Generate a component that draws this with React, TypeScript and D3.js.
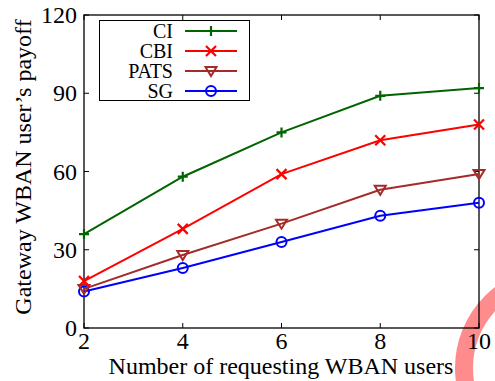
import React from 'react'
import * as d3 from 'd3'

const users = [2, 4, 6, 8, 10]
const ciValues = [36, 58, 75, 89, 92]
const cbiValues = [18, 38, 59, 72, 78]
const patsValues = [15, 28, 40, 53, 59]
const sgValues = [14, 23, 33, 43, 48]
const yTicks = [0, 30, 60, 90, 120]
const seriesNames = ['CI', 'CBI', 'PATS', 'SG']

function PayoffChart() {
  const svgRef = React.useRef<SVGSVGElement>(null)

  React.useEffect(() => {
    const svg = d3.select(svgRef.current)
    svg.selectAll('*').remove()

    const width = 495
    const height = 381
    const margin = { top: 15, right: 16, bottom: 53, left: 84 }

    const x = d3.scaleLinear().domain([2, 10]).range([margin.left, width - margin.right])
    const y = d3.scaleLinear().domain([0, 120]).range([height - margin.bottom, margin.top])

    const series = [
      { name: seriesNames[0], values: ciValues, color: '#006400', marker: 'plus' },
      { name: seriesNames[1], values: cbiValues, color: '#ff0000', marker: 'cross' },
      { name: seriesNames[2], values: patsValues, color: '#a52a2a', marker: 'tri' },
      { name: seriesNames[3], values: sgValues, color: '#0000ff', marker: 'circle' },
    ]

    // watermark ring in the corner
    svg
      .append('circle')
      .attr('cx', 557)
      .attr('cy', 368)
      .attr('r', 93)
      .attr('fill', 'none')
      .attr('stroke', '#ff8c8c')
      .attr('stroke-width', 18)

    const x0 = x(2)
    const x1 = x(10)
    const y0 = y(0)
    const y1 = y(120)

    // mirrored inward ticks
    const tickLen = 5
    users.forEach((u) => {
      svg.append('line').attr('x1', x(u)).attr('x2', x(u)).attr('y1', y0).attr('y2', y0 - tickLen).attr('stroke', 'black')
      svg.append('line').attr('x1', x(u)).attr('x2', x(u)).attr('y1', y1).attr('y2', y1 + tickLen).attr('stroke', 'black')
      svg
        .append('text')
        .attr('class', 'lbl')
        .attr('x', x(u))
        .attr('y', y0 + 21)
        .attr('text-anchor', 'middle')
        .attr('font-size', 24)
        .text(u)
    })
    yTicks.forEach((t) => {
      svg.append('line').attr('x1', x0).attr('x2', x0 + tickLen).attr('y1', y(t)).attr('y2', y(t)).attr('stroke', 'black')
      svg.append('line').attr('x1', x1).attr('x2', x1 - tickLen).attr('y1', y(t)).attr('y2', y(t)).attr('stroke', 'black')
      svg
        .append('text')
        .attr('x', x0 - 7)
        .attr('y', y(t) + 8)
        .attr('text-anchor', 'end')
        .attr('font-size', 24)
        .text(t)
    })

    // frame
    svg
      .append('rect')
      .attr('x', x0)
      .attr('y', y1)
      .attr('width', x1 - x0)
      .attr('height', y0 - y1)
      .attr('fill', 'none')
      .attr('stroke', 'black')
      .attr('stroke-width', 1.3)

    const drawMarker = (g, type, cx, cy, color) => {
      if (type === 'plus') {
        g.append('path').attr('d', `M${cx - 5},${cy}H${cx + 5}M${cx},${cy - 5}V${cy + 5}`).attr('stroke', color).attr('stroke-width', 2.2)
      } else if (type === 'cross') {
        g.append('path').attr('d', `M${cx - 5},${cy - 5}L${cx + 5},${cy + 5}M${cx - 5},${cy + 5}L${cx + 5},${cy - 5}`).attr('stroke', color).attr('stroke-width', 2.2)
      } else if (type === 'tri') {
        g.append('path').attr('d', `M${cx - 5.5},${cy - 4}L${cx + 5.5},${cy - 4}L${cx},${cy + 5}Z`).attr('fill', 'none').attr('stroke', color).attr('stroke-width', 2)
      } else {
        g.append('circle').attr('cx', cx).attr('cy', cy).attr('r', 5).attr('fill', 'none').attr('stroke', color).attr('stroke-width', 2)
      }
    }

    const line = d3
      .line<number>()
      .x((d, i) => x(users[i]))
      .y((d) => y(d))

    series
      .slice()
      .reverse()
      .forEach((s) => {
        const g = svg.append('g')
        g.append('path').attr('d', line(s.values)).attr('fill', 'none').attr('stroke', s.color).attr('stroke-width', 2)
        s.values.forEach((v, i) => drawMarker(g, s.marker, x(users[i]), y(v), s.color))
      })

    // legend
    const legend = svg.append('g')
    legend
      .append('rect')
      .attr('x', 99.5)
      .attr('y', 20.5)
      .attr('width', 150)
      .attr('height', 80)
      .attr('fill', 'white')
      .attr('stroke', 'black')
      .attr('stroke-width', 1)
    series.forEach((s, i) => {
      const ly = 31 + i * 20
      legend
        .append('text')
        .attr('x', 173)
        .attr('y', ly + 7)
        .attr('text-anchor', 'end')
        .attr('font-size', 20)
        .text(s.name)
      legend.append('line').attr('x1', 185).attr('x2', 237).attr('y1', ly).attr('y2', ly).attr('stroke', s.color).attr('stroke-width', 2)
      drawMarker(legend, s.marker, 211, ly, s.color)
    })

    // axis labels
    svg
      .append('text')
      .attr('x', 281)
      .attr('y', 374)
      .attr('text-anchor', 'middle')
      .attr('font-size', 24)
      .text('Number of requesting WBAN users')

    svg
      .append('text')
      .attr('transform', `translate(31, 167) rotate(-90)`)
      .attr('text-anchor', 'middle')
      .attr('font-size', 24)
      .text('Gateway WBAN user’s payoff')
  }, [])

  return (
    <svg
      ref={svgRef}
      width={495}
      height={381}
      style={{
        position: 'absolute',
        left: 0,
        top: 0,
        background: 'white',
        fontFamily: "'Liberation Serif', 'DejaVu Serif', serif",
      }}
    ></svg>
  )
}

export default function App() {
  return <PayoffChart />
}
